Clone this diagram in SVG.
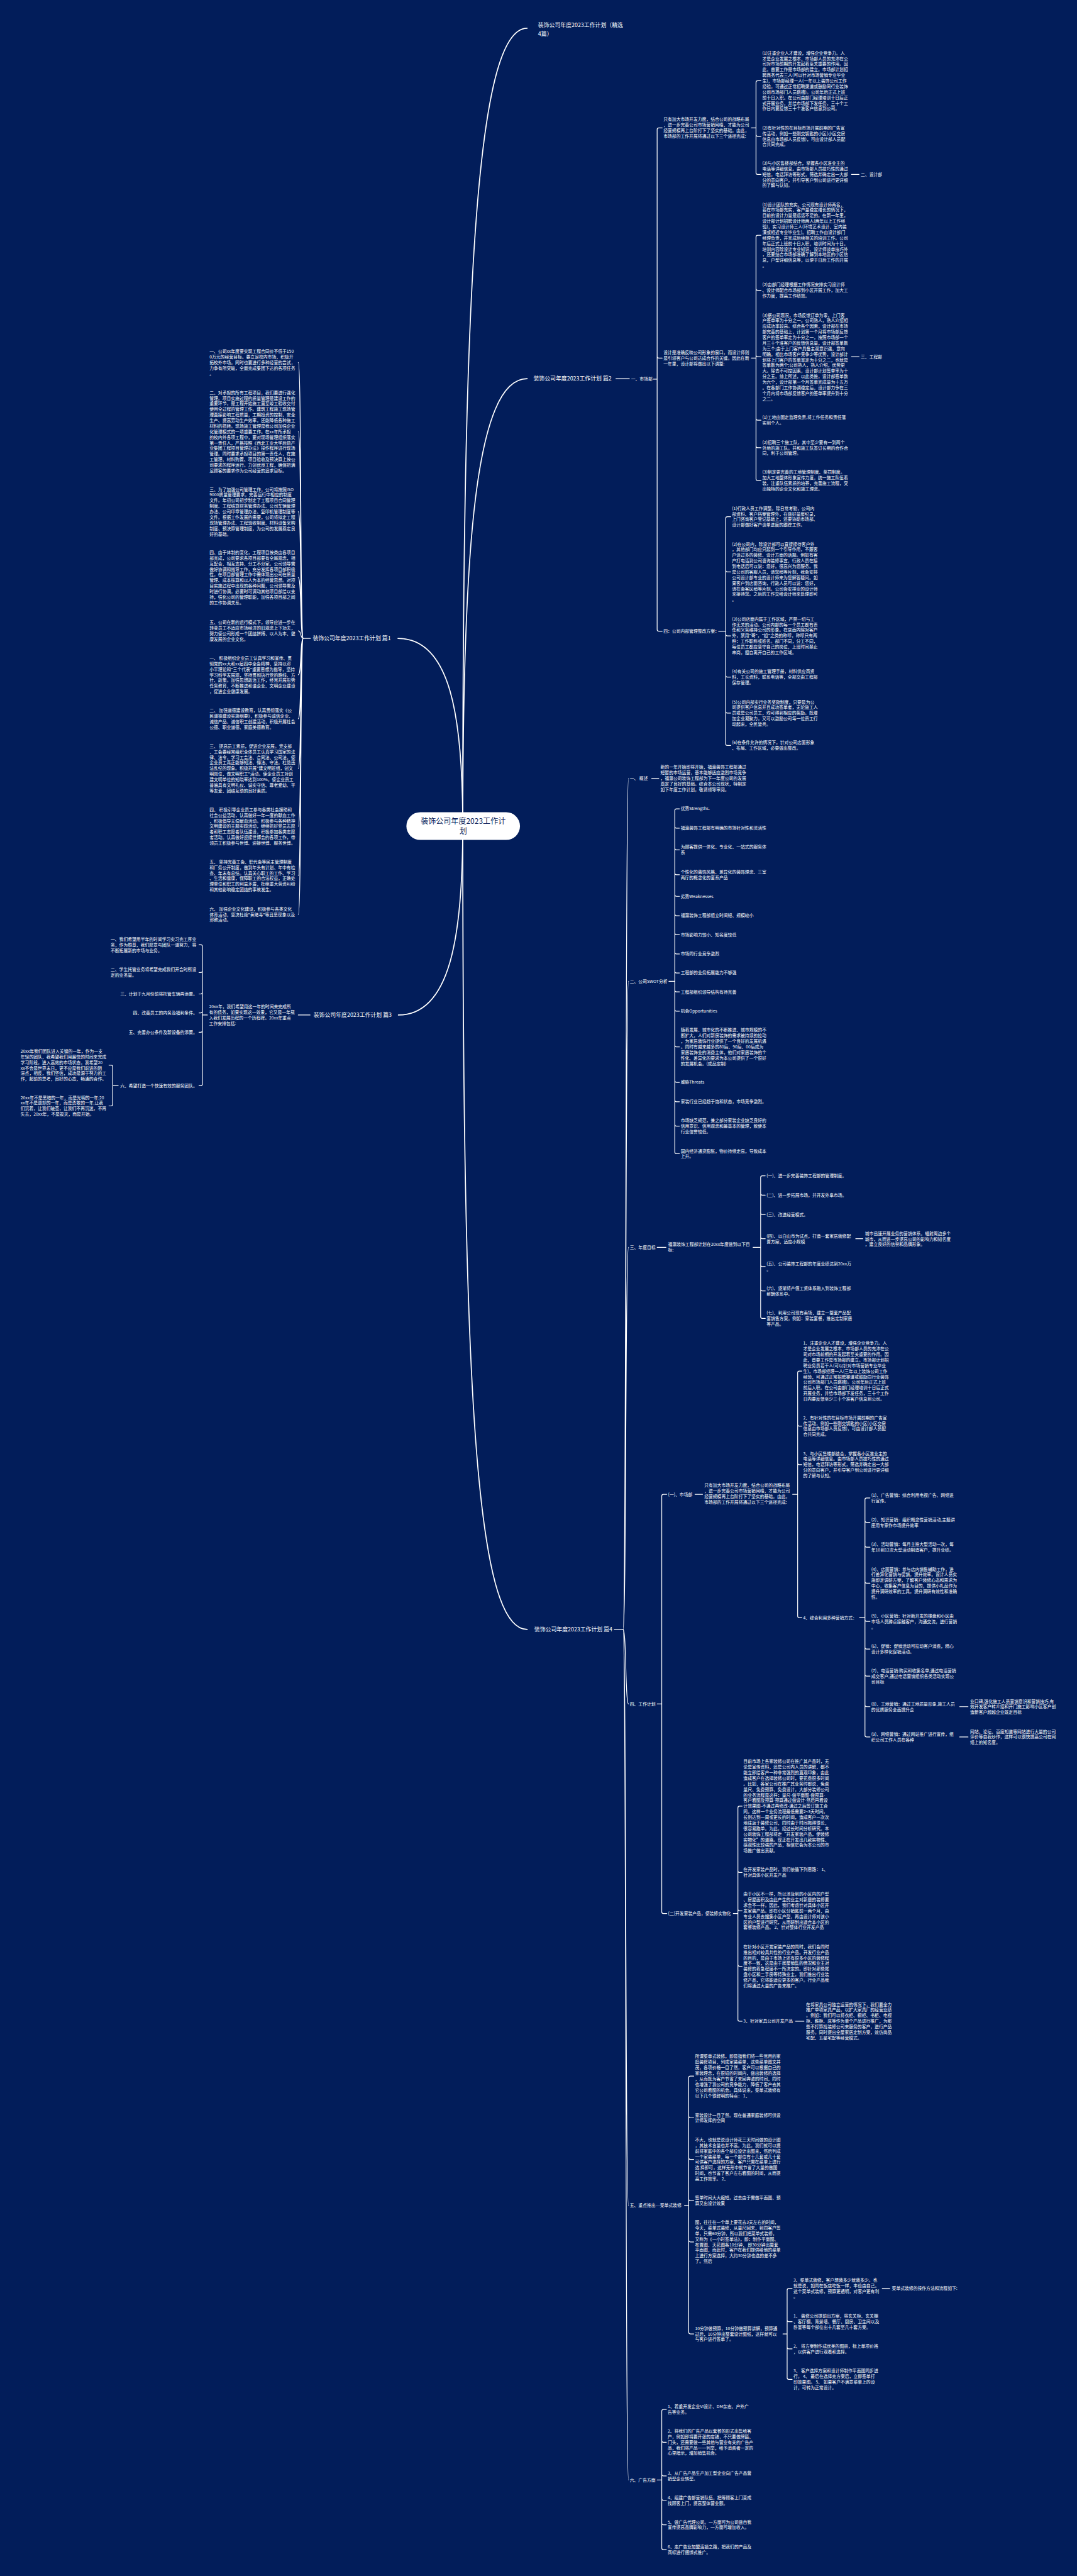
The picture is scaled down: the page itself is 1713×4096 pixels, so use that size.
<svg xmlns="http://www.w3.org/2000/svg" width="1713" height="4096" viewBox="0 0 1713 4096">
<style>
.t{font-family:"Noto Sans CJK SC","Noto Sans",sans-serif;font-size:10.2px;fill:#ffffff}
.h{font-family:"Noto Sans CJK SC","Noto Sans",sans-serif;font-size:13.3px;fill:#ffffff}
.ct{font-family:"Noto Sans CJK SC","Noto Sans",sans-serif;font-size:18px;fill:#0d1f5c;text-anchor:middle}
.e{text-anchor:end}
.cn path{fill:none;stroke:#ffffff;stroke-width:1.8;stroke-linecap:round;stroke-linejoin:round}
.cn path.m{stroke-width:2.6}
</style>
<rect x="0" y="0" width="1713" height="4096" fill="#021d5a"/>
<g transform="scale(0.66914)">
<g id="connectors" class="cn">
<path class="m" d="M 1100 1963 C 1100 700 1130 67 1253 67"/>
<path class="m" d="M 1100 1963 C 1100 1300 1130 900 1253 900"/>
<path class="m" d="M 1100 1963 C 1100 3300 1130 3872 1253 3872"/>
<path class="m" d="M 1100 1963 C 1100 1700 1070 1517 946 1517"/>
<path class="m" d="M 1100 1963 C 1100 2226 1070 2412 947 2412"/>
<path d="M 1464 900 H 1496"/>
<path d="M 1574 304 H 1566 Q 1562 304 1562 308 V 1496 Q 1562 1500 1566 1500 H 1574 M 1562 847 Q 1562 851 1566 851 H 1574 M 1553 901 H 1562"/>
<path d="M 1809 192 H 1801 Q 1797 192 1797 196 V 410.5 Q 1797 414.5 1801 414.5 H 1809 M 1797 320 Q 1797 324 1801 324 H 1809 M 1786 304 H 1797"/>
<path d="M 1809 559 H 1801 Q 1797 559 1797 563 V 1138 Q 1797 1142 1801 1142 H 1809 M 1797 686 Q 1797 690 1801 690 H 1809 M 1797 844 Q 1797 848 1801 848 H 1809 M 1797 994.6 Q 1797 998.6 1801 998.6 H 1809 M 1797 1060 Q 1797 1064 1801 1064 H 1809 M 1786 851 H 1797"/>
<path d="M 2024 414.5 H 2042 M 2024 848 H 2042"/>
<path d="M 1737 1228 H 1729 Q 1725 1228 1725 1232 V 1767.6 Q 1725 1771.6 1729 1771.6 H 1737 M 1725 1355 Q 1725 1359 1729 1359 H 1737 M 1725 1507 Q 1725 1511 1729 1511 H 1737 M 1725 1605 Q 1725 1609 1729 1609 H 1737 M 1725 1690.5 Q 1725 1694.5 1729 1694.5 H 1737 M 1708 1500 H 1725"/>
<path d="M 738 1517 H 721"/>
<path d="M 721 1517 C 713 1517 717 861.5 709 861.5 M 721 1517 C 713 1517 717 1025.75 709 1025.75 M 721 1517 C 713 1517 717 1216 709 1216 M 721 1517 C 713 1517 717 1372.6 709 1372.6 M 721 1517 C 713 1517 717 1499 709 1499 M 721 1517 C 713 1517 717 1603.5 709 1603.5 M 721 1517 C 713 1517 717 1708 709 1708 M 721 1517 C 713 1517 717 1826 709 1826 M 721 1517 C 713 1517 717 1963.5 709 1963.5 M 721 1517 C 713 1517 717 2081 709 2081 M 721 1517 C 713 1517 717 2173 709 2173"/>
<path d="M 737 2412 H 709"/>
<path d="M 473 2245 H 477 Q 481 2245 481 2249 V 2576 Q 481 2580 477 2580 H 473 M 481 2307 Q 481 2311 477 2311 H 473 M 481 2358 Q 481 2362 477 2362 H 473 M 481 2403 Q 481 2407 477 2407 H 473 M 481 2449 Q 481 2453 477 2453 H 473 M 493 2412 H 481"/>
<path d="M 259 2531 H 264 Q 268 2531 268 2535 V 2624 Q 268 2628 264 2628 H 259 M 281 2580 H 268"/>
<path d="M 1460 3872 H 1481"/>
<path d="M 1481 3872 C 1489 3872 1486 1850 1494 1850 M 1481 3872 C 1489 3872 1486 2332 1494 2332 M 1481 3872 C 1489 3872 1486 2964 1494 2964 M 1481 3872 C 1489 3872 1486 4049 1494 4049 M 1481 3872 C 1489 3872 1486 5241 1494 5241 M 1481 3872 C 1489 3872 1486 5893 1494 5893"/>
<path d="M 1549 1850 H 1566"/>
<path d="M 1615 1922 H 1608 Q 1604 1922 1604 1926 V 2737.6 Q 1604 2741.6 1608 2741.6 H 1615 M 1604 1964 Q 1604 1968 1608 1968 H 1615 M 1604 2015.6 Q 1604 2019.6 1608 2019.6 H 1615 M 1604 2074.6 Q 1604 2078.6 1608 2078.6 H 1615 M 1604 2126 Q 1604 2130 1608 2130 H 1615 M 1604 2172 Q 1604 2176 1608 2176 H 1615 M 1604 2217 Q 1604 2221 1608 2221 H 1615 M 1604 2263 Q 1604 2267 1608 2267 H 1615 M 1604 2308 Q 1604 2312 1608 2312 H 1615 M 1604 2353 Q 1604 2357 1608 2357 H 1615 M 1604 2399 Q 1604 2403 1608 2403 H 1615 M 1604 2483.75 Q 1604 2487.75 1608 2487.75 H 1615 M 1604 2568 Q 1604 2572 1608 2572 H 1615 M 1604 2614 Q 1604 2618 1608 2618 H 1615 M 1604 2672 Q 1604 2676 1608 2676 H 1615 M 1590 2332 H 1604"/>
<path d="M 1562 2964 H 1583"/>
<path d="M 1819 2794 H 1812 Q 1808 2794 1808 2798 V 3129 Q 1808 3133 1812 3133 H 1819 M 1808 2836 Q 1808 2840 1812 2840 H 1819 M 1808 2882 Q 1808 2886 1812 2886 H 1819 M 1808 2939.6 Q 1808 2943.6 1812 2943.6 H 1819 M 1808 3005.6 Q 1808 3009.6 1812 3009.6 H 1819 M 1808 3063.6 Q 1808 3067.6 1812 3067.6 H 1819 M 1790 2964 H 1808"/>
<path d="M 2034 2943.6 H 2051"/>
<path d="M 1585 3551 H 1577 Q 1573 3551 1573 3555 V 4543 Q 1573 4547 1577 4547 H 1585 M 1562 4049 H 1573"/>
<path d="M 1652 3551 H 1670"/>
<path d="M 1906 3258 H 1900 Q 1896 3258 1896 3262 V 3840 Q 1896 3844 1900 3844 H 1906 M 1896 3385 Q 1896 3389 1900 3389 H 1906 M 1896 3476.5 Q 1896 3480.5 1900 3480.5 H 1906 M 1884 3551 H 1896"/>
<path d="M 2068 3559.6 H 2060 Q 2056 3559.6 2056 3563.6 V 4123.6 Q 2056 4127.6 2060 4127.6 H 2068 M 2056 3613.6 Q 2056 3617.6 2060 3617.6 H 2068 M 2056 3672.6 Q 2056 3676.6 2060 3676.6 H 2068 M 2056 3758 Q 2056 3762 2060 3762 H 2068 M 2056 3849 Q 2056 3853 2060 3853 H 2068 M 2056 3914.6 Q 2056 3918.6 2060 3918.6 H 2068 M 2056 3979 Q 2056 3983 2060 3983 H 2068 M 2056 4051.6 Q 2056 4055.6 2060 4055.6 H 2068 M 2043 3844 H 2056"/>
<path d="M 2281 4055.6 H 2301 M 2281 4127.6 H 2301"/>
<path d="M 1764 4292 H 1758 Q 1754 4292 1754 4296 V 4799 Q 1754 4803 1758 4803 H 1764 M 1754 4445.6 Q 1754 4449.6 1758 4449.6 H 1764 M 1754 4536.75 Q 1754 4540.75 1758 4540.75 H 1764 M 1754 4668.4 Q 1754 4672.4 1758 4672.4 H 1764 M 1743 4547 H 1754"/>
<path d="M 1891 4803 H 1911"/>
<path d="M 1649 4933.4 H 1641 Q 1637 4933.4 1637 4937.4 V 5542 Q 1637 5546 1641 5546 H 1649 M 1637 5028.6 Q 1637 5032.6 1641 5032.6 H 1649 M 1637 5127.4 Q 1637 5131.4 1641 5131.4 H 1649 M 1637 5225.6 Q 1637 5229.6 1641 5229.6 H 1649 M 1637 5323.4 Q 1637 5327.4 1641 5327.4 H 1649 M 1627 5241 H 1637"/>
<path d="M 1883 5438 H 1875 Q 1871 5438 1871 5442 V 5650 Q 1871 5654 1875 5654 H 1883 M 1871 5513 Q 1871 5517 1875 5517 H 1883 M 1871 5577.6 Q 1871 5581.6 1875 5581.6 H 1883 M 1861 5546 H 1871"/>
<path d="M 2097 5438 H 2115"/>
<path d="M 1584 5725.6 H 1577 Q 1573 5725.6 1573 5729.6 V 6054.6 Q 1573 6058.6 1577 6058.6 H 1584 M 1573 5799.5 Q 1573 5803.5 1577 5803.5 H 1584 M 1573 5879.6 Q 1573 5883.6 1577 5883.6 H 1584 M 1573 5937.6 Q 1573 5941.6 1577 5941.6 H 1584 M 1573 5995.6 Q 1573 5999.6 1577 5999.6 H 1584 M 1562 5893 H 1573"/>
</g>

<g id="root">
<rect x="966" y="1930" width="270" height="66" rx="33" fill="#ffffff"/>
<text class="ct" y="1958.3"><tspan x="1101">装饰公司年度2023工作计</tspan><tspan x="1101" dy="23">划</tspan></text>
</g>

<g id="n-title"><text class="h" y="64.7"><tspan x="1279">装饰公司年度2023工作计划（精选</tspan><tspan x="1279" dy="20">4篇）</tspan></text></g>

<g id="n-p2">
<text class="h" x="1268" y="904.7">装饰公司年度2023工作计划 篇2</text>
<text class="t" x="1500" y="904.6">一、市场部</text>
<text class="t" y="287.6"><tspan x="1577">只有加大市场开发力度，结合公司的战略布局</tspan><tspan x="1577" dy="13.25">，进一步完善公司市场营销网络，才能为公司</tspan><tspan x="1577" dy="13.25">经营规模再上台阶打下了坚实的基础。由此，</tspan><tspan x="1577" dy="13.25">市场部的工作开展将通过以下三个途径完成:</tspan></text>
<text class="t" y="129.6"><tspan x="1812">(1)注重企业人才建设，增强企业竞争力。人</tspan><tspan x="1812" dy="13.25">才是企业发展之根本，市场部人员的充沛在公</tspan><tspan x="1812" dy="13.25">司对市场前期的开发起着至关重要的作用。因</tspan><tspan x="1812" dy="13.25">此，首要工作是市场部的建立。市场部计划招</tspan><tspan x="1812" dy="13.25">聘商务代表三人(可以针对市场营销专业毕业</tspan><tspan x="1812" dy="13.25">生)，市场部经理一人(一年以上装饰公司工作</tspan><tspan x="1812" dy="13.25">经验，可通过正常招聘渠道或鼓励同行业装饰</tspan><tspan x="1812" dy="13.25">公司市场部门人员跳槽)。公司年后正式上班</tspan><tspan x="1812" dy="13.25">前十日入职。在公司由部门经理培训十日后正</tspan><tspan x="1812" dy="13.25">式开展业务，并给市场部下发任务，三十个工</tspan><tspan x="1812" dy="13.25">作日内要反馈三十个准客户信息到公司。</tspan></text>
<text class="t" y="307.6"><tspan x="1812">(2)有针对性的在目标市场开展前期的广告宣</tspan><tspan x="1812" dy="13.25">传活动，例如一些刚交钥匙的小区(小区交房</tspan><tspan x="1812" dy="13.25">信息由市场部人员反馈)，可由设计部人员配</tspan><tspan x="1812" dy="13.25">合共同完成。</tspan></text>
<text class="t" y="391.6"><tspan x="1812">(3)与小区售楼部结合，掌握各小区准业主的</tspan><tspan x="1812" dy="13.25">电话等详细信息。由市场部人员技巧性的通过</tspan><tspan x="1812" dy="13.25">短信，电话拜访等形式，筛选并确定出一大部</tspan><tspan x="1812" dy="13.25">分的意向客户，并引导客户到公司进行更详细</tspan><tspan x="1812" dy="13.25">的了解与认知。</tspan></text>
<text class="t" x="2046" y="418.1">二、设计部</text>
<text class="t" y="841.6"><tspan x="1577">设计是准确反映公司形象的窗口，而设计师则</tspan><tspan x="1577" dy="13.25">是引领客户与公司达成合作的关键。因此在新</tspan><tspan x="1577" dy="13.25">一年里，设计部将做出以下调整:</tspan></text>
<text class="t" y="489.6"><tspan x="1812">(1)设计团队的充实。公司现有设计师两名，</tspan><tspan x="1812" dy="13.25">若在市场部充实，客户量稳定增长的情况下，</tspan><tspan x="1812" dy="13.25">目前的设计力量是远远不足的。在新一年里，</tspan><tspan x="1812" dy="13.25">设计部计划招聘设计师两人(两年以上工作经</tspan><tspan x="1812" dy="13.25">验)，实习设计师三人(环境艺术设计、室内装</tspan><tspan x="1812" dy="13.25">潢或相近专业毕业生)。招聘工作由设计部门</tspan><tspan x="1812" dy="13.25">经理负责，并完成后续相关的培训工作。公司</tspan><tspan x="1812" dy="13.25">年后正式上班前十日入职，培训时间为十日。</tspan><tspan x="1812" dy="13.25">培训内容除设计专业知识、设计师谈单技巧外</tspan><tspan x="1812" dy="13.25">，还要结合市场部准确了解到本地区的小区信</tspan><tspan x="1812" dy="13.25">息，户型详细信息等，以便于日后工作的开展</tspan><tspan x="1812" dy="13.25">。</tspan></text>
<text class="t" y="680.6"><tspan x="1812">(2)由部门经理根据工作情况安排实习设计师</tspan><tspan x="1812" dy="13.25">、设计师配合市场部到小区开展工作，加大工</tspan><tspan x="1812" dy="13.25">作力度，提高工作绩效。</tspan></text>
<text class="t" y="752.6"><tspan x="1812">(3)据公司现况，市场反馈订单为零，上门客</tspan><tspan x="1812" dy="13.25">户签单率为十分之一。公司熟人，熟人介绍相</tspan><tspan x="1812" dy="13.25">应成功率较高。综合各个因素，设计部在市场</tspan><tspan x="1812" dy="13.25">部完善的基础上，计划第一个月将市场部反馈</tspan><tspan x="1812" dy="13.25">客户的签单率定为十分之一，按照市场部一个</tspan><tspan x="1812" dy="13.25">月三十个准客户的反馈信息量，设计部签单数</tspan><tspan x="1812" dy="13.25">为三个;由于上门客户具备主观意识强，意向</tspan><tspan x="1812" dy="13.25">明确，相比市场客户竞争少等优势，设计部计</tspan><tspan x="1812" dy="13.25">划将上门客户的签单率定为十分之二，也就是</tspan><tspan x="1812" dy="13.25">签单数为两个;公司熟人，熟人介绍，优势更</tspan><tspan x="1812" dy="13.25">大。除去不可控因素，设计部计划签单率为十</tspan><tspan x="1812" dy="13.25">分之五。综上所述，以此类推，设计部签单数</tspan><tspan x="1812" dy="13.25">为六个，设计部第一个月签单完成量为十五万</tspan><tspan x="1812" dy="13.25">。在各部门工作协调稳定后，设计部力争在三</tspan><tspan x="1812" dy="13.25">个月内将市场部反馈客户的签单率提升到十分</tspan><tspan x="1812" dy="13.25">之二。</tspan></text>
<text class="t" x="2046" y="851.6">三、工程部</text>
<text class="t" y="995.6"><tspan x="1812">(1)工地由固定监理负责,将工作任务和责任落</tspan><tspan x="1812" dy="13.25">实到个人。</tspan></text>
<text class="t" y="1054.6"><tspan x="1812">(2)招聘三个施工队，其中至少要有一到两个</tspan><tspan x="1812" dy="13.25">外地的施工队。并和施工队签订长期的合作合</tspan><tspan x="1812" dy="13.25">同，利于公司管理。</tspan></text>
<text class="t" y="1125.6"><tspan x="1812">(3)制定更完善的工地管理制度、奖罚制度。</tspan><tspan x="1812" dy="13.25">加大工地整体形象宣传力度，统一施工队伍着</tspan><tspan x="1812" dy="13.25">装，注重队伍素质的培养，完善施工流程，突</tspan><tspan x="1812" dy="13.25">出独特的企业文化和施工理念。</tspan></text>
<text class="t" x="1577" y="1503.6">四：公司内部管理整改方案：</text>
<text class="t" y="1211.6"><tspan x="1740">(1)行政人员工作调整。除日常考勤，公司内</tspan><tspan x="1740" dy="13.25">部资料、客户档案管理外，在做好量房纪录，</tspan><tspan x="1740" dy="13.25">上门咨询客户登记基础上，还要协助市场部、</tspan><tspan x="1740" dy="13.25">设计部做好客户谈单进度的跟踪工作。</tspan></text>
<text class="t" y="1296.6"><tspan x="1740">(2)在公司内，除设计部可以直接接待客户外</tspan><tspan x="1740" dy="13.25">，其他部门均应只起到一个引导作用，不跟客</tspan><tspan x="1740" dy="13.25">户谈过多的装修、设计方面的话题。例如有客</tspan><tspan x="1740" dy="13.25">户打电话到公司咨询装修事宜，行政人员在接</tspan><tspan x="1740" dy="13.25">到电话后可以说：您好。很高兴为您服务。我</tspan><tspan x="1740" dy="13.25">是公司的客服人员，请您稍等片刻，我会安排</tspan><tspan x="1740" dy="13.25">公司设计部专业的设计师来为您解答疑问。如</tspan><tspan x="1740" dy="13.25">果客户到店面咨询，行政人员可以说：您好，</tspan><tspan x="1740" dy="13.25">请在会客区稍等片刻。公司会安排业的设计师</tspan><tspan x="1740" dy="13.25">来接待您。之后的工作交给设计师来处理即可</tspan><tspan x="1740" dy="13.25">。</tspan></text>
<text class="t" y="1474.6"><tspan x="1740">(3)公司店面内属于工作区域，严禁一切与工</tspan><tspan x="1740" dy="13.25">作无关的活动。公司内部的每一个员工都有责</tspan><tspan x="1740" dy="13.25">任和义务维持公司的形象。在店面内除对客户</tspan><tspan x="1740" dy="13.25">外，禁用"哥"，"姐"之类的称呼，称呼只有两</tspan><tspan x="1740" dy="13.25">种：工作职称或姓名。部门不同，分工不同，</tspan><tspan x="1740" dy="13.25">每位员工都应坚守自己的岗位，上班时间禁止</tspan><tspan x="1740" dy="13.25">串岗，擅自离开自己的工作区域。</tspan></text>
<text class="t" y="1599.6"><tspan x="1740">(4)有关公司的施工管理手册，材料供应商资</tspan><tspan x="1740" dy="13.25">料，工长资料，联系电话等，全部交由工程部</tspan><tspan x="1740" dy="13.25">保存管理。</tspan></text>
<text class="t" y="1671.6"><tspan x="1740">(5)公司内部实行业务奖励制度，只要是为公</tspan><tspan x="1740" dy="13.25">司提供客户信息并且成功签单者，无论施工人</tspan><tspan x="1740" dy="13.25">员或是公司员工，均可得到相应的奖励。既增</tspan><tspan x="1740" dy="13.25">加企业凝聚力，又可以激励公司每一位员工行</tspan><tspan x="1740" dy="13.25">动起来，全民皆兵。</tspan></text>
<text class="t" y="1768.6"><tspan x="1740">(6)在条件允许的情况下，针对公司店面形象</tspan><tspan x="1740" dy="13.25">、布局、工作区域，必要做出整改。</tspan></text>
</g>

<g id="n-p1">
<text class="h e" x="929" y="1521.7">装饰公司年度2023工作计划 篇1</text>
<text class="t" y="838.6"><tspan x="498">一、公司xx年度要实现工程合同价不低于150</tspan><tspan x="498" dy="13.25">0万元的经营目标。要立足校内市场，积极开</tspan><tspan x="498" dy="13.25">拓校外市场。同时也要进行多种经营的尝试，</tspan><tspan x="498" dy="13.25">力争有所突破，全面完成集团下达的各项任务</tspan><tspan x="498" dy="13.25">。</tspan></text>
<text class="t" y="936.6"><tspan x="498">二、对承担的所有工程项目，我们要进行强化</tspan><tspan x="498" dy="13.25">管理。项目实施过程的质量管理是建设工作的</tspan><tspan x="498" dy="13.25">重要环节，是工程开始施工直至竣工验收交付</tspan><tspan x="498" dy="13.25">使用全过程的管理工作。建筑工程施工现场管</tspan><tspan x="498" dy="13.25">理直接影响工程质量，工期投资的控制，安全</tspan><tspan x="498" dy="13.25">生产、提高劳动生产效率，还能降低各种施工</tspan><tspan x="498" dy="13.25">材料的损耗。现场施工管理是我公司加强企业</tspan><tspan x="498" dy="13.25">化管理模式的一项重要工作。在xx年所承担</tspan><tspan x="498" dy="13.25">的校内外各项工程中，要对现场管理组织落实</tspan><tspan x="498" dy="13.25">第一责任人，严格按照《西北工业大学后勤产</tspan><tspan x="498" dy="13.25">业集团工程项目管理办法》操作程序进行现场</tspan><tspan x="498" dy="13.25">管理。同时要求承担项目的第一责任人，在施</tspan><tspan x="498" dy="13.25">工管理、材料购置、项目验收及预决算上按公</tspan><tspan x="498" dy="13.25">司要求的程序运行。力创优良工程，确保把满</tspan><tspan x="498" dy="13.25">足顾客的要求作为公司经营的追求目标。</tspan></text>
<text class="t" y="1166.6"><tspan x="498">三、为了加强公司管理工作，公司将按照ISO</tspan><tspan x="498" dy="13.25">9000质量管理要求，完善运行中相应的制度</tspan><tspan x="498" dy="13.25">文件。年初公司初步制定了工程项目合同管理</tspan><tspan x="498" dy="13.25">制度、工程结算财务管理办法、公司车辆管理</tspan><tspan x="498" dy="13.25">办法、公司印章管理办法、复印机管理制度等</tspan><tspan x="498" dy="13.25">文件。根据工作发展的需要，公司将拟定工程</tspan><tspan x="498" dy="13.25">现场管理办法、工程验收制度、材料设备采购</tspan><tspan x="498" dy="13.25">制度、预决算管理制度，为公司的发展奠定良</tspan><tspan x="498" dy="13.25">好的基础。</tspan></text>
<text class="t" y="1316.6"><tspan x="498">四、由于体制的变化，工程项目按类由各项目</tspan><tspan x="498" dy="13.25">部完成，公司要求各项目部要有全局观念，相</tspan><tspan x="498" dy="13.25">互配合、相互支持、分工不分家。公司领导需</tspan><tspan x="498" dy="13.25">做好协调和指导工作，充分发挥各项目部积极</tspan><tspan x="498" dy="13.25">性，在项目部管理工作中需体现出公司在质量</tspan><tspan x="498" dy="13.25">管理、成本核算和以人为本的经营思想。对项</tspan><tspan x="498" dy="13.25">目实施过程中出现的各种问题，公司领导需及</tspan><tspan x="498" dy="13.25">时进行协调，必要时可调动其他项目部给以支</tspan><tspan x="498" dy="13.25">持，强化公司的管理职能，加强各项目部之间</tspan><tspan x="498" dy="13.25">的工作协调关系。</tspan></text>
<text class="t" y="1482.6"><tspan x="498">五、公司在新的运行模式下，领导应进一步在</tspan><tspan x="498" dy="13.25">转变员工不适应市场经济的旧观念上下功夫，</tspan><tspan x="498" dy="13.25">努力使公司形成一个团结拼搏、以人为本、健</tspan><tspan x="498" dy="13.25">康发展的企业文化。</tspan></text>
<text class="t" y="1567.6"><tspan x="498">一、 积极组织企业员工认真学习和宣传、贯</tspan><tspan x="498" dy="13.25">彻党的xx大和xx届四中全会精神，坚持以邓</tspan><tspan x="498" dy="13.25">小平理论和"三个代表"重要思想为指导，坚持</tspan><tspan x="498" dy="13.25">学习科学发展观，坚持贯彻执行党的路线、方</tspan><tspan x="498" dy="13.25">针、政策。加强思想政治工作，经常开展形势</tspan><tspan x="498" dy="13.25">任务教育，不断推进和谐企业、文明企业建设</tspan><tspan x="498" dy="13.25">，促进企业健康发展。</tspan></text>
<text class="t" y="1691.6"><tspan x="498">二、 加强道德建设教育，认真贯彻落实《公</tspan><tspan x="498" dy="13.25">民道德建设实施纲要》，积极参与诚信企业、</tspan><tspan x="498" dy="13.25">诚信产品、诚信职工创建活动，积极开展社会</tspan><tspan x="498" dy="13.25">公德、职业道德、家庭美德教育。</tspan></text>
<text class="t" y="1776.6"><tspan x="498">三、 提高员工素质，促进企业发展。党支部</tspan><tspan x="498" dy="13.25">、工会要经常组织全体员工认真学习国家的法</tspan><tspan x="498" dy="13.25">律、法令，学习工会法、合同法、公司法，使</tspan><tspan x="498" dy="13.25">企业员工真正能够知法、懂法、守法。杜绝违</tspan><tspan x="498" dy="13.25">法乱纪的现象。积极开展"建文明班组，创文</tspan><tspan x="498" dy="13.25">明岗位，做文明职工"活动。使企业员工对创</tspan><tspan x="498" dy="13.25">建文明单位的知晓率达到100%，使企业员工</tspan><tspan x="498" dy="13.25">普遍具有文明礼仪、诚实守信、尊老爱幼、平</tspan><tspan x="498" dy="13.25">等友爱、团结互助的良好素质。</tspan></text>
<text class="t" y="1927.6"><tspan x="498">四、 积极引导企业员工参与各类社会援助和</tspan><tspan x="498" dy="13.25">社会公益活动，认真做好一年一度的献血工作</tspan><tspan x="498" dy="13.25">，积极倡导无偿献血活动。积极参与各种精神</tspan><tspan x="498" dy="13.25">文明建设的主题实践活动，继续抓好党员志愿</tspan><tspan x="498" dy="13.25">者和职工志愿者队伍建设，积极参加各类志愿</tspan><tspan x="498" dy="13.25">者活动。认真做好迎接世博会的各项工作，带</tspan><tspan x="498" dy="13.25">领员工积极参与世博、迎接世博、服务世博。</tspan></text>
<text class="t" y="2051.6"><tspan x="498">五、 坚持完善工会、职代会等民主管理制度</tspan><tspan x="498" dy="13.25">和厂务公开制度，做到年头有计划、年中有检</tspan><tspan x="498" dy="13.25">查、年末有总结。认真关心职工的工作、学习</tspan><tspan x="498" dy="13.25">、生活和健康，保障职工的合法权益，正确处</tspan><tspan x="498" dy="13.25">理单位和职工的利益矛盾，杜绝重大劳资纠纷</tspan><tspan x="498" dy="13.25">和其他影响稳定团结的事故发生。</tspan></text>
<text class="t" y="2163.6"><tspan x="498">六、 加强企业文化建设，积极参与各类文化</tspan><tspan x="498" dy="13.25">体育活动，坚决杜绝"黄赌毒"等丑恶现象以及</tspan><tspan x="498" dy="13.25">邪教活动。</tspan></text>
</g>

<g id="n-p3">
<text class="h e" x="931" y="2416.7">装饰公司年度2023工作计划 篇3</text>
<text class="t" y="2395.6"><tspan x="497">20xx年，我们希望用这一年的时间来完成所</tspan><tspan x="497" dy="13.25">有的债务，如果实现这一效果，它又是一年载</tspan><tspan x="497" dy="13.25">入我们发展历程的一个历程碑。20xx年重点</tspan><tspan x="497" dy="13.25">工作安排包括:</tspan></text>
<text class="t" y="2235.6"><tspan x="263">一、我们希望用半年的时间学习实习完工序业</tspan><tspan x="263" dy="13.25">务，作为根基，我们愿意与团队一道努力，将</tspan><tspan x="263" dy="13.25">不断拓展新的市场与业务。</tspan></text>
<text class="t" y="2307.6"><tspan x="263">二、学生托管业务将希望完成我们开会时所设</tspan><tspan x="263" dy="13.25">定的业务量。</tspan></text>
<text class="t e" x="469" y="2365.6">三、计划于九月份前将托管车辆再添置。</text>
<text class="t e" x="469" y="2410.6">四、改善员工的内务及福利条件。</text>
<text class="t e" x="469" y="2456.6">五、完善办公条件及新设备的添置。</text>
<text class="t e" x="469" y="2583.6">六、希望打造一个快速有效的服务团队。</text>
<text class="t" y="2501.6"><tspan x="49">20xx年我们团队进入关键的一年，作为一支</tspan><tspan x="49" dy="13.25">年轻的团队，我希望我们用最快的时间来完成</tspan><tspan x="49" dy="13.25">学习阶段，进入高效的市场状态，我希望20</tspan><tspan x="49" dy="13.25">xx不会是世界末日，更不应是我们前进的阻</tspan><tspan x="49" dy="13.25">滞点，相反，我们坚信，成功是源于努力的工</tspan><tspan x="49" dy="13.25">作，超前的思考，良好的心态，畅通的合作。</tspan></text>
<text class="t" y="2611.6"><tspan x="49">20xx年不是黑暗的一年，而是光明的一年;20</tspan><tspan x="49" dy="13.25">xx年不是退却的一年，而是勇敢的一年,让我</tspan><tspan x="49" dy="13.25">们沉着，让我们破茧，让我们不再沉迷，不再</tspan><tspan x="49" dy="13.25">失去，20xx年，不是毁灭，而是开始。</tspan></text>
</g>

<g id="n-p4">
<text class="h" x="1270" y="3876.7">装饰公司年度2023工作计划 篇4</text>
<text class="t" x="1497" y="1853.6">一、 概述</text>
<text class="t" y="1826.6"><tspan x="1570">新的一年开始即将开始，福瀛装饰工程部通过</tspan><tspan x="1570" dy="13.25">短暂的市场运营，基本能够适应激烈市场竞争</tspan><tspan x="1570" dy="13.25">，福瀛公司装饰工程部为下一年度公司的发展</tspan><tspan x="1570" dy="13.25">奠定了良好的基础。综合本公司现状，特制定</tspan><tspan x="1570" dy="13.25">如下年度工作计划，敬请领导审阅。</tspan></text>
<text class="t" x="1497" y="2335.6">二、公司SWOT分析</text>
<text class="t" x="1618" y="1925.6">优势Strengths.</text>
<text class="t" x="1618" y="1971.6">福瀛装饰工程部有明确的市场针对性和灵活性</text>
<text class="t" y="2016.6"><tspan x="1618">为顾客提供一体化、专业化、一站式的服务体</tspan><tspan x="1618" dy="13.25">系</tspan></text>
<text class="t" y="2075.6"><tspan x="1618">个性化的装饰风格、差异化的装饰理念、三室</tspan><tspan x="1618" dy="13.25">两厅的概念化的套系产品</tspan></text>
<text class="t" x="1618" y="2133.6">劣势Weaknesses</text>
<text class="t" x="1618" y="2179.6">福瀛装饰工程部组立时间短、规模较小</text>
<text class="t" x="1618" y="2224.6">市场影响力较小、知名度较低</text>
<text class="t" x="1618" y="2270.6">市场同行业竞争激烈</text>
<text class="t" x="1618" y="2315.6">工程部的业务拓展能力不够强</text>
<text class="t" x="1618" y="2360.6">工程部组织领导结构有待完善</text>
<text class="t" x="1618" y="2406.6">机会Opportunities</text>
<text class="t" y="2451.6"><tspan x="1618">随着发展、城市化的不断推进、城市规模的不</tspan><tspan x="1618" dy="13.25">断扩大，人们对新房装饰的需求被持续的拉动</tspan><tspan x="1618" dy="13.25">，为家居装饰行业提供了一个良好的发展机遇</tspan><tspan x="1618" dy="13.25">。同时有越来越多的80后、90后、00后成为</tspan><tspan x="1618" dy="13.25">家居装饰业的消费主体，他们对家居装饰的个</tspan><tspan x="1618" dy="13.25">性化、差异化的要求为本公司提供了一个很好</tspan><tspan x="1618" dy="13.25">的发展机会。(成品定制)</tspan></text>
<text class="t" x="1618" y="2575.6">威胁Threats</text>
<text class="t" x="1618" y="2621.6">家装行业已经趋于饱和状态，市场竞争激烈。</text>
<text class="t" y="2666.6"><tspan x="1618">市场缺乏规范，兼之部分家装企业缺乏良好的</tspan><tspan x="1618" dy="13.25">信用意识、信用观念和最基本的管理，致使本</tspan><tspan x="1618" dy="13.25">行业信誉较低。</tspan></text>
<text class="t" y="2738.6"><tspan x="1618">国内经济通货膨胀，物价持续走高，导致成本</tspan><tspan x="1618" dy="13.25">上升。</tspan></text>

<text class="t" x="1497" y="2967.6">三、年度目标</text>
<text class="t" y="2960.6"><tspan x="1588">福瀛装饰工程部计划在20xx年度做到以下目</tspan><tspan x="1588" dy="13.25">标:</tspan></text>
<text class="t" x="1822" y="2797.6">(一)、进一步完善装饰工程部的管理制度。</text>
<text class="t" x="1822" y="2843.6">(二)、进一步拓展市场，并开发外阜市场。</text>
<text class="t" x="1822" y="2889.6">(三)、改进经营模式。</text>
<text class="t" y="2940.6"><tspan x="1822">(四)、以白山市为试点，打造一套家居装修配</tspan><tspan x="1822" dy="13.25">置方案，适应小规模</tspan></text>
<text class="t" y="2934.6"><tspan x="2056">城市迅速开展业务的营销体系，辐射周边多个</tspan><tspan x="2056" dy="13.25">城市，从而进一步提高公司的影响力和知名度</tspan><tspan x="2056" dy="13.25">，建立良好的信誉和品牌形象。</tspan></text>
<text class="t" y="3006.6"><tspan x="1822">(五)、公司装饰工程部的年度业绩达到20xx万</tspan><tspan x="1822" dy="13.25">。</tspan></text>
<text class="t" y="3064.6"><tspan x="1822">(六)、逐渐将产值工资体系融入到装饰工程部</tspan><tspan x="1822" dy="13.25">薪酬体系中。</tspan></text>
<text class="t" y="3123.6"><tspan x="1822">(七)、利用公司现有卖场，建立一整套产品配</tspan><tspan x="1822" dy="13.25">套销售方案，例如：家装套餐，推出定制家居</tspan><tspan x="1822" dy="13.25">等产品。</tspan></text>

<text class="t" x="1497" y="4052.6">四、工作计划</text>
<text class="t" x="1588" y="3554.6">(一)、市场部</text>
<text class="t" y="3533.6"><tspan x="1674">只有加大市场开发力度，结合公司的战略布局</tspan><tspan x="1674" dy="13.25">，进一步完善公司市场营销网络，才能为公司</tspan><tspan x="1674" dy="13.25">经营规模再上台阶打下了坚实的基础。由此，</tspan><tspan x="1674" dy="13.25">市场部的工作开展将通过以下三个途径完成:</tspan></text>
<text class="t" y="3195.6"><tspan x="1909">1、注重企业人才建设，增强企业竞争力。人</tspan><tspan x="1909" dy="13.25">才是企业发展之根本，市场部人员的充沛在公</tspan><tspan x="1909" dy="13.25">司对市场前期的开发起着至关重要的作用。因</tspan><tspan x="1909" dy="13.25">此，首要工作是市场部的建立。市场部计划招</tspan><tspan x="1909" dy="13.25">聘业务员若干人(可以针对市场营销专业毕业</tspan><tspan x="1909" dy="13.25">生)，市场部经理一人(三年以上装饰公司工作</tspan><tspan x="1909" dy="13.25">经验，可通过正常招聘渠道或鼓励同行业装饰</tspan><tspan x="1909" dy="13.25">公司市场部门人员跳槽)。公司年后正式上班</tspan><tspan x="1909" dy="13.25">前后入职。在公司由部门经理培训十日后正式</tspan><tspan x="1909" dy="13.25">开展业务，并给市场部下发任务，三十个工作</tspan><tspan x="1909" dy="13.25">日内要反馈至少三十个准客户信息到公司。</tspan></text>
<text class="t" y="3372.6"><tspan x="1909">2、有针对性的在目标市场开展前期的广告宣</tspan><tspan x="1909" dy="13.25">传活动，例如一些刚交钥匙的小区(小区交房</tspan><tspan x="1909" dy="13.25">信息由市场部人员反馈)，可由设计部人员配</tspan><tspan x="1909" dy="13.25">合共同完成。</tspan></text>
<text class="t" y="3457.6"><tspan x="1909">3、与小区售楼部结合，掌握各小区准业主的</tspan><tspan x="1909" dy="13.25">电话等详细信息。由市场部人员技巧性的通过</tspan><tspan x="1909" dy="13.25">短信，电话拜访等形式，筛选并确定出一大部</tspan><tspan x="1909" dy="13.25">分的意向客户，并引导客户到公司进行更详细</tspan><tspan x="1909" dy="13.25">的了解与认知。</tspan></text>
<text class="t" x="1909" y="3847.6">4、综合利用多种营销方式：</text>
<text class="t" y="3556.6"><tspan x="2071">(1)、广告营销：综合利用电视广告、网络进</tspan><tspan x="2071" dy="13.25">行宣传。</tspan></text>
<text class="t" y="3614.6"><tspan x="2071">(2)、知识营销：组织概念性营销活动,主题讲</tspan><tspan x="2071" dy="13.25">座用专家作市场提升效率</tspan></text>
<text class="t" y="3673.6"><tspan x="2071">(3)、活动营销：每月主推大型活动一次，每</tspan><tspan x="2071" dy="13.25">年10到12次大型活动制造客户，提升业绩。</tspan></text>
<text class="t" y="3732.6"><tspan x="2071">(4)、店面营销：参与店内销售辅助工作，进</tspan><tspan x="2071" dy="13.25">行差异化营销与促销，提升效率。设计人员实</tspan><tspan x="2071" dy="13.25">施即定调研方案，了解客户装修心态和需求为</tspan><tspan x="2071" dy="13.25">中心，收集客户信息为目的，提供小礼品作为</tspan><tspan x="2071" dy="13.25">提升调研效率的工具，提升调研有效性和准确</tspan><tspan x="2071" dy="13.25">性。</tspan></text>
<text class="t" y="3843.6"><tspan x="2071">(5)、小区营销：针对新开发的楼盘和小区由</tspan><tspan x="2071" dy="13.25">市场人员蹲点接触客户，沟通交流，进行营销</tspan><tspan x="2071" dy="13.25">。</tspan></text>
<text class="t" y="3915.6"><tspan x="2071">(6)、促销：促销活动可拉动客户消费，精心</tspan><tspan x="2071" dy="13.25">设计多样化促销活动。</tspan></text>
<text class="t" y="3973.6"><tspan x="2071">(7)、电话营销:购买和收集名单,通过电话营销</tspan><tspan x="2071" dy="13.25">成交客户,通过电话营销组织各类活动实现公</tspan><tspan x="2071" dy="13.25">司目标</tspan></text>
<text class="t" y="4052.6"><tspan x="2071">(8)、工地营销：通过工地质量形象,施工人员</tspan><tspan x="2071" dy="13.25">的优质服务全面提升企</tspan></text>
<text class="t" y="4046.4"><tspan x="2306">业口碑,强化施工人员营销意识和营销技巧,有</tspan><tspan x="2306" dy="13.25">效开发客户转介绍和开门施工影响小区客户创</tspan><tspan x="2306" dy="13.25">造新客户超越企业既定目标</tspan></text>
<text class="t" y="4124.6"><tspan x="2071">(9)、网络营销：通过网站推广进行宣传，组</tspan><tspan x="2071" dy="13.25">织公司工作人员在各种</tspan></text>
<text class="t" y="4118.1"><tspan x="2306">网站、论坛、百度知道等网站进行大量的公司</tspan><tspan x="2306" dy="13.25">评价等自我炒作，这样可以很快提高公司在网</tspan><tspan x="2306" dy="13.25">络上的知名度。</tspan></text>

<text class="t" x="1588" y="4550.6">(二)开发家装产品，使装修实物化</text>
<text class="t" y="4189.6"><tspan x="1767">目前市场上各家装修公司在推广其产品时，无</tspan><tspan x="1767" dy="13.25">论是宣传资料，还是公司内人员的讲解，都不</tspan><tspan x="1767" dy="13.25">能立即给客户一种非常强烈的直观印象，由此</tspan><tspan x="1767" dy="13.25">造成客户在选择装修公司时，要花费很多时间</tspan><tspan x="1767" dy="13.25">。比如，各家公司在推广其业务时都说，免费</tspan><tspan x="1767" dy="13.25">量尺、免费预算、免费设计，大部分装修公司</tspan><tspan x="1767" dy="13.25">的业务流程是这样：量尺-做平面图-做预算-</tspan><tspan x="1767" dy="13.25">客户看图及预算-预算通过做设计-然后再看设</tspan><tspan x="1767" dy="13.25">计效果图-不通过再修改-通过之后签订施工合</tspan><tspan x="1767" dy="13.25">同。这样一个业务流程最低需要2~3天时间，</tspan><tspan x="1767" dy="13.25">长则达到一周或更长的时间，造成客户一次次</tspan><tspan x="1767" dy="13.25">地往返于装修公司，同时由于时间拖得很长，</tspan><tspan x="1767" dy="13.25">很容易跑单。为此，经过长时间分析研究。本</tspan><tspan x="1767" dy="13.25">公司装饰工程部将走“开发家装产品，使装修</tspan><tspan x="1767" dy="13.25">实物化”的道路。现正在开发出几款实物性、</tspan><tspan x="1767" dy="13.25">感观性比较强的产品，相信它会为本公司的市</tspan><tspan x="1767" dy="13.25">场推广做出贡献。</tspan></text>
<text class="t" y="4446.6"><tspan x="1767">在开发家装产品时，我们依循下列思路： 1、</tspan><tspan x="1767" dy="13.25">针对具体小区开发产品</tspan></text>
<text class="t" y="4504.6"><tspan x="1767">由于小区不一样，所以涉及到的小区内的户型</tspan><tspan x="1767" dy="13.25">、房屋面积及由此产生的业主对新居的装修要</tspan><tspan x="1767" dy="13.25">求会不一样。因此，我们考虑针对具体小区开</tspan><tspan x="1767" dy="13.25">发家装产品。即在小区分销匙前一两个月，由</tspan><tspan x="1767" dy="13.25">专业人员去搜集小区户型，再由设计师对该小</tspan><tspan x="1767" dy="13.25">区的户型进行研究，从而研制出适合本小区的</tspan><tspan x="1767" dy="13.25">套餐装修产品。 2、针对整体行业开发产品</tspan></text>
<text class="t" y="4629.6"><tspan x="1767">在针对小区开发家装产品的同时，我们会同时</tspan><tspan x="1767" dy="13.25">推出相对较具共性的行业产品。开发行业产品</tspan><tspan x="1767" dy="13.25">的目的，是由于市场上还有很多小区的装修程</tspan><tspan x="1767" dy="13.25">度不一致，这是由于房屋销售的情况和业主对</tspan><tspan x="1767" dy="13.25">装修的着急程度不一所决定的。即针对那些尾</tspan><tspan x="1767" dy="13.25">盘小区和二手房等特殊业主，我们推出行业装</tspan><tspan x="1767" dy="13.25">修产品，它将能适应更多的客户。行业产品我</tspan><tspan x="1767" dy="13.25">们将通过大量的广告来推广。</tspan></text>
<text class="t" x="1767" y="4806.6">3、针对家具公司开发产品</text>
<text class="t" y="4766.6"><tspan x="1916">在将家具公司独立运营的情况下，我们要全力</tspan><tspan x="1916" dy="13.25">推广单项家具产品，以扩大家具厂的经营业绩</tspan><tspan x="1916" dy="13.25">。例如：我们可以将衣柜、橱柜、书柜、电视</tspan><tspan x="1916" dy="13.25">柜、鞋柜、床等作为单个产品进行推广，为那</tspan><tspan x="1916" dy="13.25">些不打算找装修公司来服务的客户，进行产品</tspan><tspan x="1916" dy="13.25">服务。同时提出全屋家居定制方案，效仿尚品</tspan><tspan x="1916" dy="13.25">宅配、五星宅配等经营模式。</tspan></text>

<text class="t" x="1497" y="5244.6">五、重点推出---菜单式装修</text>
<text class="t" y="4890.6"><tspan x="1652">所谓菜单式装修，即是指我们将一些常用的家</tspan><tspan x="1652" dy="13.25">庭装修项目，列成家装菜单，这些菜单图文并</tspan><tspan x="1652" dy="13.25">茂，各项价格一目了然，客户可以根据自己的</tspan><tspan x="1652" dy="13.25">家装理念，在很短的时间内，做出装修的选择</tspan><tspan x="1652" dy="13.25">，从而既为客户节省了来回奔波的时间，同时</tspan><tspan x="1652" dy="13.25">也增强了我公司的竞争能力，降低了客户去其</tspan><tspan x="1652" dy="13.25">它公司看图的机会。具体说来，菜单式装修有</tspan><tspan x="1652" dy="13.25">以下几个很鲜明的特点： 1、</tspan></text>
<text class="t" y="5029.6"><tspan x="1652">家装设计一目了然。现在普通家庭装修可供设</tspan><tspan x="1652" dy="13.25">计师发挥的空间</tspan></text>
<text class="t" y="5088.6"><tspan x="1652">不大，也就是说设计师花三天时间做的设计图</tspan><tspan x="1652" dy="13.25">，其技术含量也并不高。为此，我们就可以提</tspan><tspan x="1652" dy="13.25">前将家庭中的各个部位设计出图来，然后列成</tspan><tspan x="1652" dy="13.25">一个家装菜单，每一个部位有十几套或几十套</tspan><tspan x="1652" dy="13.25">可供客户选择的方案，客户只需在菜单上进行</tspan><tspan x="1652" dy="13.25">选 择即可，这样无形中就节省了大量的做图</tspan><tspan x="1652" dy="13.25">时间，也节省了客户左右看图的时间，从而提</tspan><tspan x="1652" dy="13.25">高工作效率。 2、</tspan></text>
<text class="t" y="5226.6"><tspan x="1652">签单时间大大缩短。过去由于需做平面图、预</tspan><tspan x="1652" dy="13.25">算又出设计效果</tspan></text>
<text class="t" y="5284.6"><tspan x="1652">图，往往在一个单上要花去3天左右的时间，</tspan><tspan x="1652" dy="13.25">今天，菜单式装修，从量尺回来，到同客户签</tspan><tspan x="1652" dy="13.25">单，只需60分钟，所以我们把菜单式装修，</tspan><tspan x="1652" dy="13.25">又称为《一小时签单法》，即：制作平面图、</tspan><tspan x="1652" dy="13.25">布置图、天花图各10分钟， 即30分钟出整套</tspan><tspan x="1652" dy="13.25">平面图，而此时，客户在我们提供给他的菜单</tspan><tspan x="1652" dy="13.25">上进行方案选择，大约30分钟也选的差不多</tspan><tspan x="1652" dy="13.25">了。然后</tspan></text>
<text class="t" y="5536.6"><tspan x="1652">10分钟做预算，10分钟做预算讲解，预算通</tspan><tspan x="1652" dy="13.25">过后，10分钟出整套设计图纸，这样就可以</tspan><tspan x="1652" dy="13.25">与客户进行签单了。</tspan></text>
<text class="t" y="5421.6"><tspan x="1886">3、菜单式装修，客户想装多少就装多少。也</tspan><tspan x="1886" dy="13.25">就是说，如同在饭店吃饭一样，丰俭由自己。</tspan><tspan x="1886" dy="13.25">这个菜单式装修，预算更透明，对客户更有利</tspan><tspan x="1886" dy="13.25">。</tspan></text>
<text class="t" x="2120" y="5441.6">菜单式装修的操作方法和流程如下:</text>
<text class="t" y="5507.6"><tspan x="1886">1、 装修公司提前出方案，将玄关柜、玄关棚</tspan><tspan x="1886" dy="13.25">、客厅棚、背景墙、餐厅、厨房、卫生间以及</tspan><tspan x="1886" dy="13.25">卧室等每个部位出十几套至几十套方案。</tspan></text>
<text class="t" y="5578.6"><tspan x="1886">2、 将方案制作成优美的图册，标上单项价格</tspan><tspan x="1886" dy="13.25">，以供客户进行观看和选择。</tspan></text>
<text class="t" y="5637.6"><tspan x="1886">3、 客户选择方案和设计师制作平面图同步进</tspan><tspan x="1886" dy="13.25">行。 4、 最后在选择完方案后，立即签单打</tspan><tspan x="1886" dy="13.25">印效果图。 5、 如果客户不满意菜单上的设</tspan><tspan x="1886" dy="13.25">计，可转为正常设计。</tspan></text>

<text class="t" x="1497" y="5896.6">六、广告方面</text>
<text class="t" y="5722.6"><tspan x="1587">1、着重开发企业VI设计、DM杂志、户外广</tspan><tspan x="1587" dy="13.25">告等业务。</tspan></text>
<text class="t" y="5780.6"><tspan x="1587">2、将我们的广告产品以套餐的形式出售给客</tspan><tspan x="1587" dy="13.25">户，例如即将要开张的店铺，不只要做牌匾、</tspan><tspan x="1587" dy="13.25">门头，还需要做一些其他与营业有关的广告产</tspan><tspan x="1587" dy="13.25">品，我们将产品一一列举，给予消费者一定的</tspan><tspan x="1587" dy="13.25">心里暗示，增加销售机会。</tspan></text>
<text class="t" y="5880.6"><tspan x="1587">3、从广告产品生产加工型企业向广告产品营</tspan><tspan x="1587" dy="13.25">销型企业转型。</tspan></text>
<text class="t" y="5938.6"><tspan x="1587">4、组建广告部营销队伍，把等顾客上门变成</tspan><tspan x="1587" dy="13.25">找顾客上门，提高整体营业额。</tspan></text>
<text class="t" y="5996.6"><tspan x="1587">5、做广告代理公司。一方面可为公司做自我</tspan><tspan x="1587" dy="13.25">宣传提高品牌影响力，一方面可增加收入。</tspan></text>
<text class="t" y="6055.6"><tspan x="1587">6、走广告业加盟连锁之路，把我们的产品及</tspan><tspan x="1587" dy="13.25">商标进行捆绑式推广。</tspan></text>
</g>
</g>
</svg>
